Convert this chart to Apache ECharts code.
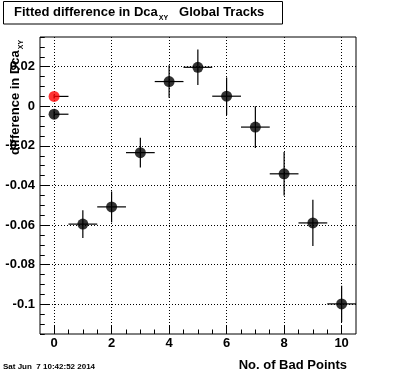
<!DOCTYPE html>
<html>
<head>
<meta charset="utf-8">
<script src="https://cdn.jsdelivr.net/npm/echarts@6/dist/echarts.min.js"></script>
<style>
html,body{margin:0;padding:0;background:#fff;}
#chart{width:396px;height:372px;}
</style>
</head>
<body>
<div id="chart"></div>
<script>
// ---- data ----
const badPoints   = [0, 1, 2, 3, 4, 5, 6, 7, 8, 9, 10];
const fittedDiff  = [-0.004, -0.0595, -0.0508, -0.0234, 0.0125, 0.0197, 0.0051, -0.0105, -0.0341, -0.0589, -0.0998];
const fittedErrY  = [0.002, 0.007, 0.0078, 0.0075, 0.0082, 0.009, 0.0095, 0.0105, 0.011, 0.0117, 0.0092];
const fittedErrX  = [0.5, 0.5, 0.5, 0.5, 0.5, 0.5, 0.5, 0.5, 0.5, 0.5, 0.5];
const refX        = [0];
const refDiff     = [0.005];
const refErrY     = [0.001];
const refErrX     = [0.5];
const xMajorTicks = [0, 2, 4, 6, 8, 10];
const xMinorTicks = [0, 0.5, 1, 1.5, 2, 2.5, 3, 3.5, 4, 4.5, 5, 5.5, 6, 6.5, 7, 7.5, 8, 8.5, 9, 9.5, 10];
const yMajorTicks = [-0.1, -0.08, -0.06, -0.04, -0.02, 0, 0.02];
const yMinorTicks = [-0.115, -0.11, -0.105, -0.1, -0.095, -0.09, -0.085, -0.08, -0.075, -0.07, -0.065, -0.06, -0.055, -0.05, -0.045, -0.04, -0.035, -0.03, -0.025, -0.02, -0.015, -0.01, -0.005, 0, 0.005, 0.01, 0.015, 0.02, 0.025, 0.03, 0.035];
const titleMain   = 'Fitted difference in Dca';
const titleSub    = 'XY';
const titleTail   = 'Global Tracks';
const yTitleMain  = 'difference in Dca';
const yTitleSub   = 'XY';
const xTitle      = 'No. of Bad Points';
const dateText    = 'Sat Jun  7 10:42:52 2014';

const X_MIN = -0.49, X_MAX = 10.5, Y_MIN = -0.115, Y_MAX = 0.035;
const FONT = '"Liberation Sans", Arial, Helvetica, sans-serif';

function zip(xs, ys, exs, eys) { return xs.map((x, i) => [x, ys[i], exs[i], eys[i]]); }
const fittedData = zip(badPoints, fittedDiff, fittedErrX, fittedErrY);
const refData = zip(refX, refDiff, refErrX, refErrY);

function fmt(v) { return String(parseFloat(Number(v).toFixed(4))); }

function renderErr(params, api) {
  const x = api.value(0), y = api.value(1), ex = api.value(2), ey = api.value(3);
  const c = api.coord([x, y]);
  const segs = [];
  if (x - ex >= X_MIN) segs.push([api.coord([x - ex, y]), c]);
  if (x + ex <= X_MAX) segs.push([c, api.coord([x + ex, y])]);
  if (y - ey >= Y_MIN) segs.push([c, api.coord([x, y - ey])]);
  if (y + ey <= Y_MAX) segs.push([api.coord([x, y + ey]), c]);
  return {
    type: 'group',
    children: segs.map(s => ({
      type: 'line',
      shape: { x1: s[0][0], y1: s[0][1], x2: s[1][0], y2: s[1][1] },
      style: { stroke: '#000', lineWidth: 1.2 }
    }))
  };
}

const measureCtx = document.createElement('canvas').getContext('2d');
function textW(str, font) { measureCtx.font = font; return measureCtx.measureText(str).width; }
const bigFont = 'bold 13px ' + FONT;
const subFont = 'bold 7px ' + FONT;

const tMainW = textW(titleMain, bigFont);
const tSubX = 14 + tMainW + 1;
const tSubW = textW(titleSub, subFont);
const tTailX = tSubX + tSubW + 11;

const yMainW = textW(yTitleMain, bigFont);
const yBase = 155;

const noLine = { show: false, onZero: false };

const chart = echarts.init(document.getElementById('chart'), null, { renderer: 'canvas' });
chart.setOption({
  animation: false,
  backgroundColor: '#fff',
  grid: { left: 40, right: 40, top: 37, bottom: 38, show: true, borderColor: '#000', borderWidth: 1, backgroundColor: 'transparent' },
  xAxis: [
    {
      type: 'value', min: X_MIN, max: X_MAX, position: 'bottom',
      axisLine: noLine,
      axisTick: { show: true, inside: true, length: 9, customValues: xMajorTicks, lineStyle: { color: '#000', width: 1 } },
      axisLabel: { show: true, customValues: xMajorTicks, margin: 3, formatter: fmt, color: '#000', fontFamily: FONT, fontWeight: 'bold', fontSize: 13 },
      splitLine: { show: true, lineStyle: { color: '#000', width: 1, type: [1, 2] } }
    },
    {
      type: 'value', min: X_MIN, max: X_MAX, position: 'bottom',
      axisLine: noLine,
      axisTick: { show: true, inside: true, length: 4.5, customValues: xMinorTicks, lineStyle: { color: '#000', width: 1 } },
      axisLabel: { show: false },
      splitLine: { show: false }
    }
  ],
  yAxis: [
    {
      type: 'value', min: Y_MIN, max: Y_MAX, position: 'left',
      axisLine: noLine,
      axisTick: { show: true, inside: true, length: 9.5, customValues: yMajorTicks, lineStyle: { color: '#000', width: 1 } },
      axisLabel: { show: true, customValues: yMajorTicks, margin: 5, formatter: fmt, color: '#000', fontFamily: FONT, fontWeight: 'bold', fontSize: 13 },
      splitLine: { show: true, lineStyle: { color: '#000', width: 1, type: [1, 2] } }
    },
    {
      type: 'value', min: Y_MIN, max: Y_MAX, position: 'left',
      axisLine: noLine,
      axisTick: { show: true, inside: true, length: 4.75, customValues: yMinorTicks, lineStyle: { color: '#000', width: 1 } },
      axisLabel: { show: false },
      splitLine: { show: false }
    }
  ],
  series: [
    { type: 'custom', renderItem: renderErr, data: fittedData, xAxisIndex: 0, yAxisIndex: 0, z: 2, clip: true },
    { type: 'custom', renderItem: renderErr, data: refData, xAxisIndex: 0, yAxisIndex: 0, z: 2, clip: true },
    { type: 'scatter', data: fittedData, symbol: 'circle', symbolSize: 11, itemStyle: { color: '#000' }, z: 5 },
    { type: 'scatter', data: refData, symbol: 'circle', symbolSize: 11, itemStyle: { color: '#ff0000' }, z: 5 }
  ],
  graphic: [
    { type: 'rect', shape: { x: 3.5, y: 1.5, width: 279, height: 22.5 }, style: { fill: '#fff', stroke: '#000', lineWidth: 1 }, z: 10 },
    { type: 'text', x: 14, y: 12, z: 11, style: { text: titleMain, font: bigFont, fill: '#000', align: 'left', verticalAlign: 'middle' } },
    { type: 'text', x: tSubX, y: 18.5, z: 11, style: { text: titleSub, font: subFont, fill: '#000', align: 'left', verticalAlign: 'middle' } },
    { type: 'text', x: tTailX, y: 12, z: 11, style: { text: titleTail, font: bigFont, fill: '#000', align: 'left', verticalAlign: 'middle' } },
    { type: 'text', x: 15, y: yBase, rotation: Math.PI / 2, z: 11, style: { text: yTitleMain, font: bigFont, fill: '#000', align: 'left', verticalAlign: 'middle' } },
    { type: 'text', x: 21, y: yBase - yMainW - 1, rotation: Math.PI / 2, z: 11, style: { text: yTitleSub, font: subFont, fill: '#000', align: 'left', verticalAlign: 'middle' } },
    { type: 'text', x: 347, y: 365, z: 11, style: { text: xTitle, font: bigFont, fill: '#000', align: 'right', verticalAlign: 'middle' } },
    { type: 'text', x: 3, y: 366.5, z: 11, style: { text: dateText, font: 'bold 8px ' + FONT, fill: '#000', align: 'left', verticalAlign: 'middle' } }
  ]
});
</script>
</body>
</html>
